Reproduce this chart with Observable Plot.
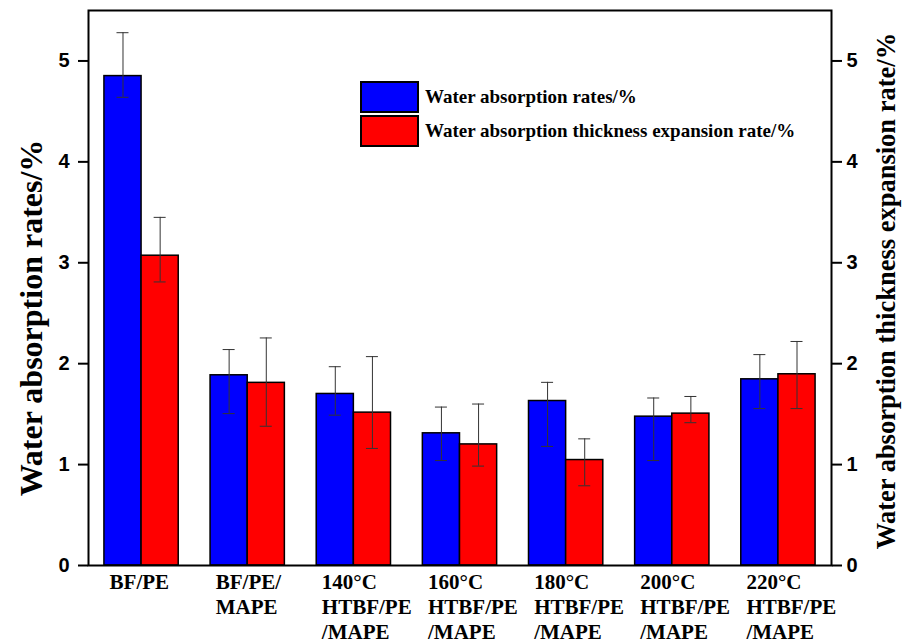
<!DOCTYPE html>
<html>
<head>
<meta charset="utf-8">
<script src="https://cdn.jsdelivr.net/npm/d3@7"></script>
<script src="https://cdn.jsdelivr.net/npm/@observablehq/plot@0.6"></script>
<style>
  body { margin: 0; background: #fff; }
  #wrap { position: relative; width: 902px; height: 643px; overflow: hidden; }
  .legend { position: absolute; left: 360px; top: 81px; font: bold 19px "Liberation Serif", "Times New Roman", serif; color: #000; }
  .row { display: flex; align-items: center; height: 32px; margin-bottom: 2px; }
  .sw { width: 59px; height: 32px; box-sizing: border-box; border: 2px solid #000; margin-right: 6px; }
</style>
</head>
<body>
<div id="wrap"></div>
<script>
const categories = ["BF/PE", "BF/PE/\nMAPE", "140°C\nHTBF/PE\n/MAPE", "160°C\nHTBF/PE\n/MAPE", "180°C\nHTBF/PE\n/MAPE", "200°C\nHTBF/PE\n/MAPE", "220°C\nHTBF/PE\n/MAPE"];
const absorption     = [4.85, 1.885, 1.70, 1.31, 1.63, 1.475, 1.845];
const absorptionLow  = [4.64, 1.505, 1.49, 1.04, 1.18, 1.04, 1.555];
const absorptionHigh = [5.28, 2.14, 1.97, 1.57, 1.815, 1.66, 2.09];
const expansion      = [3.07, 1.81, 1.515, 1.20, 1.045, 1.505, 1.895];
const expansionLow   = [2.81, 1.38, 1.16, 0.985, 0.79, 1.415, 1.555];
const expansionHigh  = [3.45, 2.255, 2.07, 1.60, 1.255, 1.675, 2.22];
const yTicks = [0, 1, 2, 3, 4, 5];
const seriesNames = ["Water absorption rates/%", "Water absorption thickness expansion rate/%"];
const seriesColors = ["#0000ff", "#ff0000"];
const leftTitle = "Water absorption rates/%";
const rightTitle = "Water absorption thickness expansion rate/%";

const W = 902, H = 643, mL = 88, mR = 71, mT = 10, mB = 78, padIn = 0.3, padOut = 0.15;
const step = (W - mL - mR) / (categories.length - padIn + 2 * padOut);
const bw = step * (1 - padIn);
const half = bw / 2;
const cap = 12;

const absRows = categories.map((c, i) => ({category: c, value: absorption[i], low: absorptionLow[i], high: absorptionHigh[i]}));
const expRows = categories.map((c, i) => ({category: c, value: expansion[i], low: expansionLow[i], high: expansionHigh[i]}));

const errStyle = {stroke: "#333", strokeWidth: 1};
const capInset = (bw - cap) / 2;
const tickFont = {fontSize: 20, fontWeight: "bold", fontFamily: "Liberation Sans, Arial, sans-serif"};
const serif = "Liberation Serif, Times New Roman, serif";

const chart = Plot.plot({
  width: W, height: H,
  marginLeft: mL, marginRight: mR, marginTop: mT, marginBottom: mB,
  x: {type: "band", domain: categories, paddingInner: padIn, paddingOuter: padOut, round: false, axis: null},
  y: {domain: [0, 5.5], axis: null},
  style: {background: "#fff"},
  marks: [
    Plot.barY(absRows, {x: "category", y: "value", fill: seriesColors[0], stroke: "#000", strokeWidth: 1.5, insetRight: half}),
    Plot.barY(expRows, {x: "category", y: "value", fill: seriesColors[1], stroke: "#000", strokeWidth: 1.5, insetLeft: half}),
    Plot.ruleX(absRows, {x: "category", y1: "low", y2: "high", dx: -bw / 4, ...errStyle}),
    Plot.ruleX(expRows, {x: "category", y1: "low", y2: "high", dx: bw / 4, ...errStyle}),
    Plot.tickY(absRows, {x: "category", y: "high", dx: -bw / 4, insetLeft: capInset, insetRight: capInset, ...errStyle}),
    Plot.tickY(absRows, {x: "category", y: "low", dx: -bw / 4, insetLeft: capInset, insetRight: capInset, ...errStyle}),
    Plot.tickY(expRows, {x: "category", y: "high", dx: bw / 4, insetLeft: capInset, insetRight: capInset, ...errStyle}),
    Plot.tickY(expRows, {x: "category", y: "low", dx: bw / 4, insetLeft: capInset, insetRight: capInset, ...errStyle}),
    Plot.frame({stroke: "#000", strokeWidth: 2}),
    Plot.axisY({anchor: "left", ticks: yTicks, tickFormat: d => String(d), tickSize: 10, tickPadding: 9, strokeWidth: 2, ...tickFont, label: null}),
    Plot.axisY({anchor: "right", ticks: yTicks, tickFormat: d => String(d), tickSize: 10, tickPadding: 5, strokeWidth: 2, ...tickFont, label: null}),
    Plot.text(absRows, {x: "category", frameAnchor: "bottom", text: "category", textAnchor: "start", lineAnchor: "top", dx: -32, dy: 6, fontSize: 21, fontWeight: "bold", fontFamily: serif, lineHeight: 1.19, fill: "#000"}),
    Plot.text([leftTitle], {frameAnchor: "left", textAnchor: "middle", dx: -57, dy: 30, rotate: -90, fontSize: 32, fontWeight: "bold", fontFamily: serif, fill: "#000"}),
    Plot.text([rightTitle], {frameAnchor: "right", textAnchor: "middle", dx: 55, dy: 3, rotate: -90, fontSize: 26.5, fontWeight: "bold", fontFamily: serif, fill: "#000"})
  ]
});

const wrap = document.getElementById("wrap");
wrap.appendChild(chart);
const legend = document.createElement("div");
legend.className = "legend";
seriesNames.forEach((name, i) => {
  const row = document.createElement("div");
  row.className = "row";
  const sw = document.createElement("div");
  sw.className = "sw";
  sw.style.background = seriesColors[i];
  const label = document.createElement("span");
  label.textContent = name;
  row.appendChild(sw);
  row.appendChild(label);
  legend.appendChild(row);
});
wrap.appendChild(legend);
</script>
</body>
</html>
